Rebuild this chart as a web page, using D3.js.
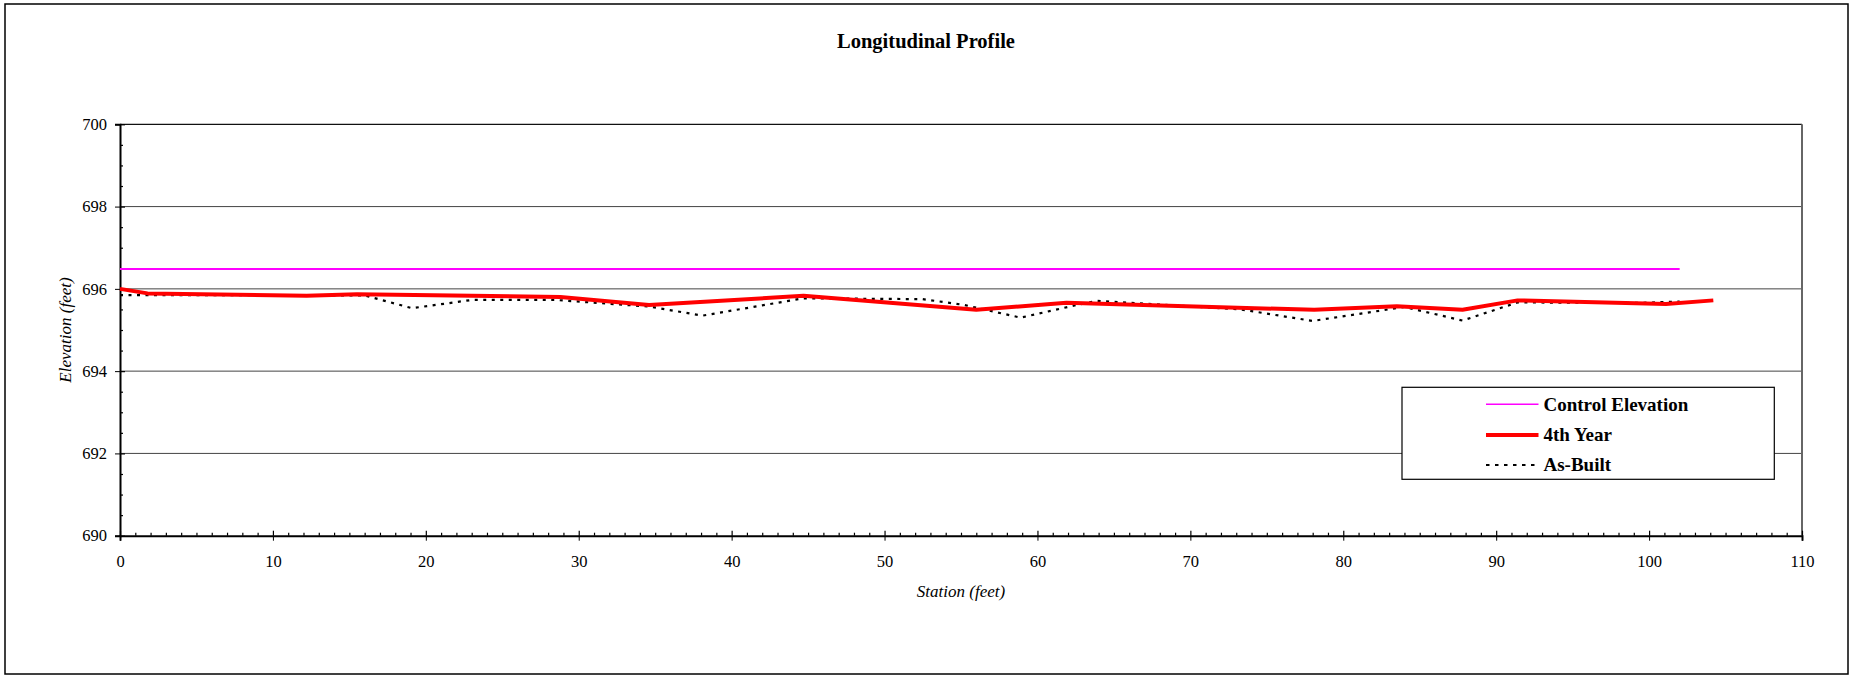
<!DOCTYPE html>
<html><head><meta charset="utf-8">
<script src="https://cdn.jsdelivr.net/npm/d3@7"></script>
<style>
html,body{margin:0;padding:0;background:#fff;}
svg{display:block;font-family:"Liberation Serif","Times New Roman",serif;}
svg text{font-family:"Liberation Serif","Times New Roman",serif;}
</style></head>
<body>
<svg id="c" width="1852" height="676"></svg>
<script>
const chartTitle = "Longitudinal Profile";
const xTitle = "Station (feet)";
const yTitle = "Elevation (feet)";
const xTicks = [0,10,20,30,40,50,60,70,80,90,100,110];
const yTicks = [690,692,694,696,698,700];

const controlStation = [0, 102];
const controlElev = [696.48, 696.48];

const year4Station = [0, 1.8, 12.2, 15.5, 28.8, 34.6, 44.7, 56.0, 61.9, 78.1, 83.5, 87.8, 91.4, 101.1, 104.2];
const year4Elev = [696.0, 695.89, 695.83, 695.87, 695.80, 695.61, 695.83, 695.49, 695.66, 695.49, 695.58, 695.49, 695.72, 695.63, 695.72];

const asBuiltStation = [0, 16.0, 19.1, 23.0, 28.5, 34.6, 38.1, 44.7, 52.5, 55.2, 58.9, 62.6, 63.9, 73.3, 78.0, 84.0, 87.8, 91.4, 99.4, 102.0];
const asBuiltElev = [695.85, 695.84, 695.53, 695.73, 695.73, 695.57, 695.35, 695.77, 695.75, 695.61, 695.30, 695.61, 695.71, 695.50, 695.22, 695.56, 695.23, 695.67, 695.66, 695.69];

const seriesNames = ["Control Elevation", "4th Year", "As-Built"];

const FONT = '"Liberation Serif","Times New Roman",serif';
const svg = d3.select("#c");
const L = 120, R = 1802, T = 124.3, B = 535.7;
const x = d3.scaleLinear().domain([0,110]).range([L,R]);
const y = d3.scaleLinear().domain([690,700]).range([B,T]);

// outer border
svg.append("rect").attr("x",5).attr("y",4).attr("width",1843).attr("height",670)
  .attr("fill","none").attr("stroke","#000").attr("stroke-width",1.5);

// title
svg.append("text").attr("x",926).attr("y",48).attr("text-anchor","middle")
  .attr("font-weight","bold").attr("font-size",20.5).text(chartTitle);

// gridlines
svg.append("g").selectAll("line").data(yTicks.filter(v=>v>690 && v<700)).join("line")
  .attr("x1",L).attr("x2",R).attr("y1",d=>y(d)).attr("y2",d=>y(d))
  .attr("stroke","#444").attr("stroke-width",1);

// plot frame top/right
svg.append("line").attr("x1",L).attr("x2",R).attr("y1",T).attr("y2",T).attr("stroke","#111").attr("stroke-width",1.3);
svg.append("line").attr("x1",R).attr("x2",R).attr("y1",T).attr("y2",B).attr("stroke","#666").attr("stroke-width",2);

// minor tick values
const yMinor = d3.range(690, 700.001, 0.5);
const xMinor = d3.range(0, 110.001, 1);

// y axis
const gy = svg.append("g").attr("transform",`translate(${L},0)`)
  .call(d3.axisLeft(y).tickValues(yTicks).tickSize(5).tickPadding(8).tickFormat(d3.format("d")))
  .attr("font-family",FONT).attr("font-size",16.5);
gy.select(".domain").attr("stroke","#000").attr("stroke-width",2);
gy.selectAll("text").attr("fill","#000");
const gyIn = svg.append("g").attr("transform",`translate(${L},0)`)
  .call(d3.axisRight(y).tickValues(yMinor).tickSize(3).tickFormat(""));
gyIn.select(".domain").remove();
gyIn.selectAll(".tick line").attr("x2",d=>yTicks.includes(d)?5:3).attr("stroke-width",1.2);

// x axis
const gx = svg.append("g").attr("transform",`translate(0,${B})`)
  .call(d3.axisBottom(x).tickValues(xTicks).tickSize(5).tickPadding(15))
  .attr("font-family",FONT).attr("font-size",16.5);
gx.select(".domain").attr("stroke","#000").attr("stroke-width",2);
gx.selectAll("text").attr("fill","#000");
const gxIn = svg.append("g").attr("transform",`translate(0,${B})`)
  .call(d3.axisTop(x).tickValues(xMinor).tickSize(3).tickFormat(""));
gxIn.select(".domain").remove();
gxIn.selectAll(".tick line").attr("y2",d=>xTicks.includes(d)?-5:-3).attr("stroke-width",1.2);

// axis titles
svg.append("text").attr("x",(L+R)/2).attr("y",597).attr("text-anchor","middle")
  .attr("font-style","italic").attr("font-size",17).text(xTitle);
svg.append("text").attr("transform",`translate(71,${(T+B)/2}) rotate(-90)`).attr("text-anchor","middle")
  .attr("font-style","italic").attr("font-size",17).text(yTitle);

// lines
const line = d3.line().x(d=>x(d[0])).y(d=>y(d[1]));
const ctrl = controlStation.map((s,i)=>[s,controlElev[i]]);
const y4 = year4Station.map((s,i)=>[s,year4Elev[i]]);
const ab = asBuiltStation.map((s,i)=>[s,asBuiltElev[i]]);

svg.append("path").datum(ctrl).attr("d",line).attr("fill","none").attr("stroke","#FF00FF").attr("stroke-width",2);
svg.append("path").datum(ab).attr("d",line).attr("fill","none").attr("stroke","#000").attr("stroke-width",2.2).attr("stroke-dasharray","3,5.5");
svg.append("path").datum(y4).attr("d",line).attr("fill","none").attr("stroke","#FF0000").attr("stroke-width",4).attr("stroke-linejoin","round");

// legend
const lg = svg.append("g");
lg.append("rect").attr("x",1402).attr("y",387.3).attr("width",372.3).attr("height",92)
  .attr("fill","#fff").attr("stroke","#000").attr("stroke-width",1.2);
const styles = [
  {c:"#FF00FF", w:1.6, dash:null},
  {c:"#FF0000", w:4, dash:null},
  {c:"#000", w:2, dash:"3.5,5.5"}
];
const rowsY = [404.3, 435, 465];
seriesNames.forEach((n,i)=>{
  const l = lg.append("line").attr("x1",1486).attr("x2",1538.5).attr("y1",rowsY[i]).attr("y2",rowsY[i])
    .attr("stroke",styles[i].c).attr("stroke-width",styles[i].w);
  if(styles[i].dash) l.attr("stroke-dasharray",styles[i].dash);
  lg.append("text").attr("x",1543.5).attr("y",rowsY[i]).attr("dy","0.33em")
    .attr("font-weight","bold").attr("font-size",19).text(n);
});
</script>
</body></html>
